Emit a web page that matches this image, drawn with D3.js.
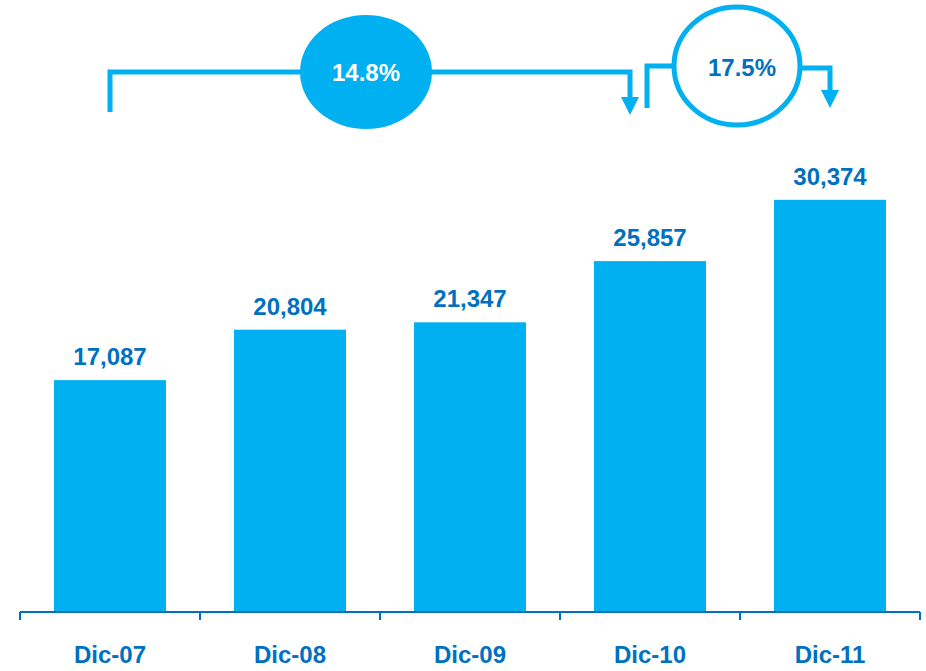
<!DOCTYPE html>
<html>
<head>
<meta charset="utf-8">
<script src="https://cdn.jsdelivr.net/npm/d3@7"></script>
<style>
  body { margin: 0; background: #fff; }
  text { font-family: Arial, "Liberation Sans", sans-serif; font-weight: bold; }
</style>
</head>
<body>
<div id="chart"></div>
<script>
var categories = ["Dic-07", "Dic-08", "Dic-09", "Dic-10", "Dic-11"];
var values = [17087, 20804, 21347, 25857, 30374];
var growthLabels = ["14.8%", "17.5%"];

var width = 926, height = 671;
var barColor = "#00b0f0", darkBlue = "#0070c0";

var svg = d3.select("#chart").append("svg")
    .attr("width", width)
    .attr("height", height);

var x = d3.scaleBand()
    .domain(categories)
    .range([20, 920])
    .paddingInner(0.378)
    .paddingOuter(0.189);

var y = d3.scaleLinear()
    .domain([0, 45100])
    .range([612, 0]);

// bars
svg.append("g").selectAll("rect")
    .data(values)
  .enter().append("rect")
    .attr("x", function(d, i) { return x(categories[i]); })
    .attr("y", function(d) { return y(d); })
    .attr("width", x.bandwidth())
    .attr("height", function(d) { return y(0) - y(d); })
    .attr("fill", barColor);

// value labels
svg.append("g").selectAll("text")
    .data(values)
  .enter().append("text")
    .attr("x", function(d, i) { return x(categories[i]) + x.bandwidth() / 2; })
    .attr("y", function(d) { return y(d) - 15; })
    .attr("text-anchor", "middle")
    .attr("font-size", 24)
    .attr("fill", darkBlue)
    .text(function(d) { return d3.format(",")(d); });

// axis line with ticks between categories
var step = x.step();
var tickPos = d3.range(categories.length + 1).map(function(i) { return 20 + i * 180; });
var axis = svg.append("g");
axis.append("line")
    .attr("x1", 20).attr("x2", 920)
    .attr("y1", y(0)).attr("y2", y(0))
    .attr("stroke", darkBlue).attr("stroke-width", 2);
axis.selectAll(".tk")
    .data(tickPos)
  .enter().append("line")
    .attr("class", "tk")
    .attr("x1", function(d) { return d; }).attr("x2", function(d) { return d; })
    .attr("y1", y(0)).attr("y2", y(0) + 8)
    .attr("stroke", darkBlue).attr("stroke-width", 2);

axis.selectAll(".lbl")
    .data(categories)
  .enter().append("text")
    .attr("class", "lbl")
    .attr("x", function(d) { return x(d) + x.bandwidth() / 2; })
    .attr("y", 663)
    .attr("text-anchor", "middle")
    .attr("font-size", 24)
    .attr("fill", darkBlue)
    .text(function(d) { return d; });

// growth brackets
function cx(i) { return x(categories[i]) + x.bandwidth() / 2; }
var ann = svg.append("g")
    .attr("fill", "none")
    .attr("stroke", barColor)
    .attr("stroke-width", 5);

function arrowHead(xc, tip) {
  svg.append("path")
      .attr("d", "M" + (xc - 9) + "," + (tip - 18) + "L" + (xc + 9) + "," + (tip - 18) + "L" + xc + "," + tip + "Z")
      .attr("fill", barColor);
}

// first bracket: Dic-07 -> Dic-10
ann.append("path")
    .attr("d", "M" + cx(0) + ",112V72H" + (cx(3) - 20) + "V100");
arrowHead(cx(3) - 20, 115);
svg.append("ellipse")
    .attr("cx", 366).attr("cy", 72)
    .attr("rx", 66).attr("ry", 57)
    .attr("fill", barColor);
svg.append("text")
    .attr("x", 366).attr("y", 81)
    .attr("text-anchor", "middle")
    .attr("font-size", 24)
    .attr("fill", "#fff")
    .text(growthLabels[0]);

// second bracket: Dic-10 -> Dic-11
ann.append("path")
    .attr("d", "M" + (cx(3) - 3) + ",108V66H" + 700);
ann.append("path")
    .attr("d", "M780,68H" + cx(4) + "V95");
arrowHead(cx(4), 108);
svg.append("ellipse")
    .attr("cx", 737).attr("cy", 66)
    .attr("rx", 63).attr("ry", 59)
    .attr("fill", "#fff")
    .attr("stroke", barColor)
    .attr("stroke-width", 5);
svg.append("text")
    .attr("x", 742).attr("y", 76)
    .attr("text-anchor", "middle")
    .attr("font-size", 24)
    .attr("fill", darkBlue)
    .text(growthLabels[1]);
</script>
</body>
</html>
